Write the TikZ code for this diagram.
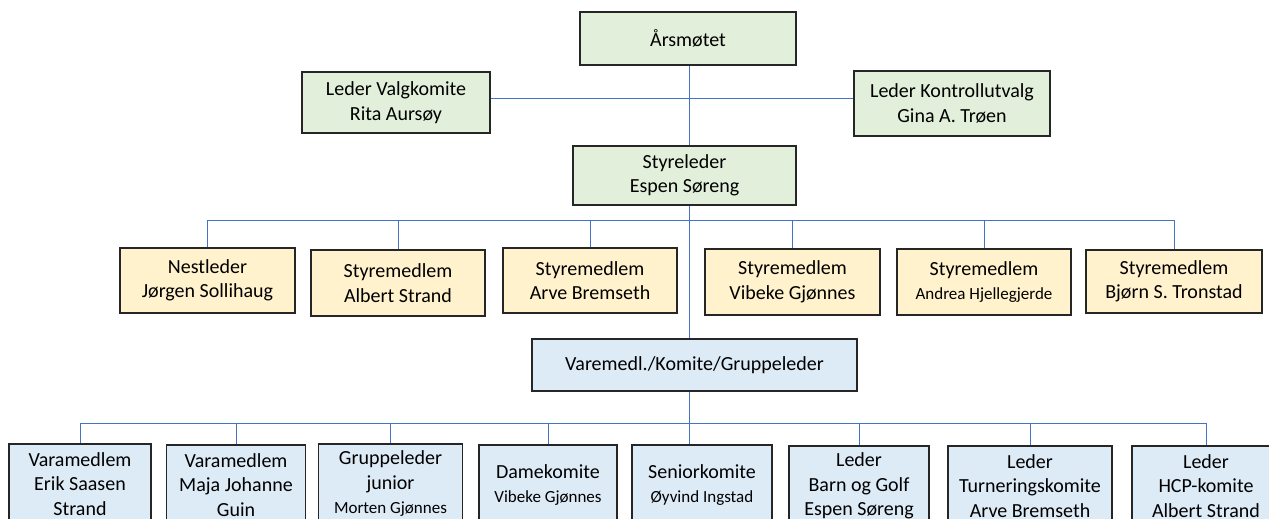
\documentclass[tikz,border=0pt]{standalone}
\usepackage{fontspec}
\setmainfont{Carlito}
\usepackage{tikz}
\definecolor{boardgreen}{HTML}{E2EFDA}
\definecolor{memberyellow}{HTML}{FFF2CC}
\definecolor{groupblue}{HTML}{DDEBF7}
\definecolor{linkblue}{HTML}{4472C4}
\newcommand{\bigfs}{\fontsize{20}{24.5}\selectfont}
\newcommand{\smallfs}{\fontsize{17}{21}\selectfont}
\newcommand{\boxline}{1.1pt}

\begin{document}
\begin{tikzpicture}[x=1pt,y=-1pt]
                %\draw[help lines] (0,0) grid[step=50] (1269,519);
                \tikzset{box/.style = {draw=black!85, line width=\boxline, align=center, inner sep=0pt, font=\bigfs},
                         board/.style = {box, fill=boardgreen},
                         member/.style = {box, fill=memberyellow},
                         group/.style = {box, fill=groupblue, minimum height=80pt},
                         link/.style = {draw=linkblue, line width=1pt}}
                \useasboundingbox (0,0) rectangle (1269,519);
                \clip (0,0) rectangle (1269,519);
                \coordinate (trunk) at (689,0);
                \coordinate (side) at (689,98);
                \coordinate (bus1) at (689,220);
                \coordinate (bus2) at (689,423);

                \node[board, minimum width=216pt, minimum height=53pt] (aars) at (688,38.5) {Årsmøtet};
                \node[board, minimum width=188pt, minimum height=61pt] (valg) at (396,102.5) {Leder Valgkomite\\Rita Aursøy};
                \node[board, minimum width=196pt, minimum height=65pt] (kontroll) at (952,103.5) {Leder Kontrollutvalg\\Gina A. Trøen};
                \node[board, minimum width=223pt, minimum height=59pt] (leder) at (684.5,175.5) {Styreleder\\Espen Søreng};

                \node[member, minimum width=175pt, minimum height=65pt] (s1) at (207.5,280.5) {Nestleder\\Jørgen Sollihaug};
                \node[member, minimum width=174pt, minimum height=66pt] (s2) at (398,283) {Styremedlem\\Albert Strand};
                \node[member, minimum width=174pt, minimum height=65pt] (s3) at (590,280.5) {Styremedlem\\Arve Bremseth};
                \node[member, minimum width=175pt, minimum height=66pt] (s4) at (792.5,282) {Styremedlem\\Vibeke Gjønnes};
                \node[member, minimum width=174pt, minimum height=66pt] (s5) at (984,282) {Styremedlem\\{\smallfs Andrea Hjellegjerde}};
                \node[member, minimum width=176pt, minimum height=63pt] (s6) at (1174,281.5) {Styremedlem\\Bjørn S. Tronstad};

                \node[group, minimum width=325pt, minimum height=52pt] (vara) at (694.5,365) {Varemedl./Komite/Gruppeleder};

                \node[group, minimum width=142pt] (k1) at (80,484) {Varamedlem\\Erik Saasen\\Strand};
                \node[group, minimum width=139pt] (k2) at (236,485) {Varamedlem\\Maja Johanne\\Guin};
                \node[group, minimum width=144pt] (k3) at (390.5,484) {Gruppeleder\\junior\\{\smallfs Morten Gjønnes}};
                \node[group, minimum width=138pt] (k4) at (548,485) {Damekomite\\{\smallfs Vibeke Gjønnes}};
                \node[group, minimum width=140pt] (k5) at (702,485) {Seniorkomite\\{\smallfs Øyvind Ingstad}};
                \node[group, minimum width=140pt] (k6) at (859,486) {Leder\\Barn og Golf\\Espen Søreng};
                \node[group, minimum width=164pt] (k7) at (1030,486) {Leder\\Turneringskomite\\Arve Bremseth};
                \node[group, minimum width=148pt] (k8) at (1206,486) {Leder\\HCP-komite\\Albert Strand};

                \draw[link] (trunk |- aars.south) -- (trunk |- leder.north);
                \draw[link] (valg.east |- side) -- (kontroll.west |- side);
                \draw[link] (trunk |- leder.south) -- (trunk |- vara.north);
                \draw[link] (s1.north |- bus1) -- (s6.north |- bus1);
                \foreach \i in {1,...,6}
                        \draw[link] (s\i.north |- bus1) -- (s\i.north);
                \draw[link] (trunk |- vara.south) -- (trunk |- k5.north);
                \draw[link] (k1.north |- bus2) -- (k8.north |- bus2);
                \foreach \i in {1,2,3,4,6,7,8}
                        \draw[link] (k\i.north |- bus2) -- (k\i.north);
\end{tikzpicture}
\end{document}
